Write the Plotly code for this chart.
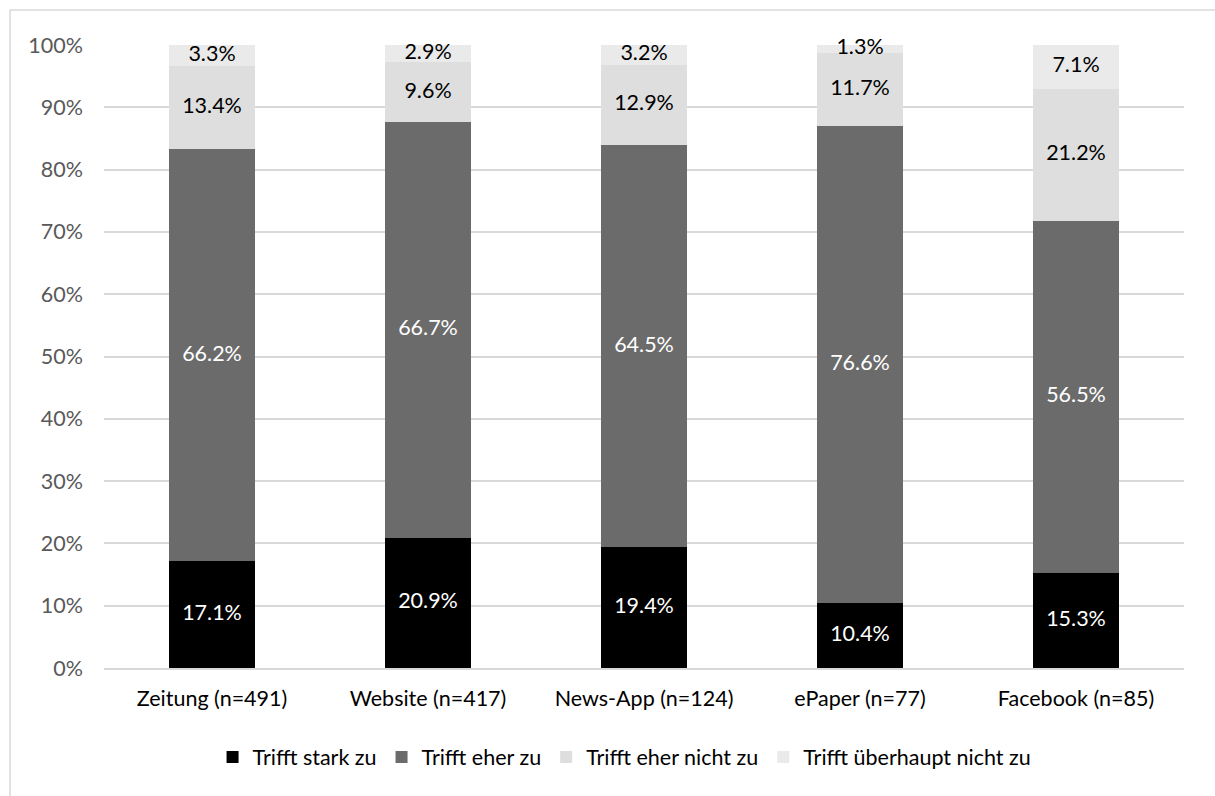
import plotly.graph_objects as go

categories = ["Zeitung (n=491)", "Website (n=417)", "News-App (n=124)", "ePaper (n=77)", "Facebook (n=85)"]
series_names = ["Trifft stark zu", "Trifft eher zu", "Trifft eher nicht zu", "Trifft überhaupt nicht zu"]
stark = [17.1, 20.9, 19.4, 10.4, 15.3]
eher = [66.2, 66.7, 64.5, 76.6, 56.5]
eher_nicht = [13.4, 9.6, 12.9, 11.7, 21.2]
ueberhaupt_nicht = [3.3, 2.9, 3.2, 1.3, 7.1]
y_ticks = [0, 10, 20, 30, 40, 50, 60, 70, 80, 90, 100]

values = [stark, eher, eher_nicht, ueberhaupt_nicht]
colors = ["#000000", "#6b6b6b", "#dedede", "#eaeaea"]
text_colors = ["#ffffff", "#ffffff", "#000000", "#000000"]

FONT = "Lato"
FS = 21.5

fig = go.Figure()
for name, vals, c in zip(series_names, values, colors):
    fig.add_trace(go.Bar(
        x=categories, y=vals, name=name,
        marker=dict(color=c, line=dict(width=0)),
        hoverinfo="skip",
    ))

# value labels at the middle of each stacked segment
base = [0.0] * len(categories)
for vals, tc in zip(values, text_colors):
    mids = [b + v / 2 for b, v in zip(base, vals)]
    fig.add_trace(go.Scatter(
        x=categories, y=mids, mode="text",
        text=[f"{v:.1f}%" for v in vals],
        textposition="middle center",
        textfont=dict(color=tc, size=FS, family=FONT),
        showlegend=False, hoverinfo="skip", cliponaxis=False,
    ))
    base = [b + v for b, v in zip(base, vals)]

fig.update_layout(
    barmode="stack",
    bargap=0.6,
    width=1215, height=796,
    margin=dict(l=104, r=31, t=45, b=128),
    paper_bgcolor="white", plot_bgcolor="white",
    font=dict(family=FONT, size=FS, color="#595959"),
    showlegend=True,
    legend=dict(orientation="h", x=0.482, xanchor="center", y=-0.143, yanchor="middle",
                font=dict(size=FS, color="#000000", family=FONT), traceorder="normal",
                itemwidth=30),
    xaxis=dict(showgrid=False, showline=True, linecolor="#d9d9d9", linewidth=1.5,
               tickfont=dict(color="#000000", size=FS, family=FONT), ticks="",
               ticklabelstandoff=10, fixedrange=True),
    yaxis=dict(range=[0, 100], tickvals=y_ticks, ticktext=[f"{t}%" for t in y_ticks],
               showgrid=True, gridcolor="#d9d9d9", gridwidth=1.5, zeroline=False,
               ticks="", ticklabelstandoff=20,
               tickfont=dict(color="#595959", size=FS, family=FONT)),
    shapes=[dict(type="rect", xref="paper", yref="paper",
                 x0=-0.087, y0=-0.4, x1=1.2, y1=1.0562,
                 line=dict(color="#d9d9d9", width=1.5), fillcolor="rgba(0,0,0,0)", layer="below")],
)
fig.write_html("out.html")
